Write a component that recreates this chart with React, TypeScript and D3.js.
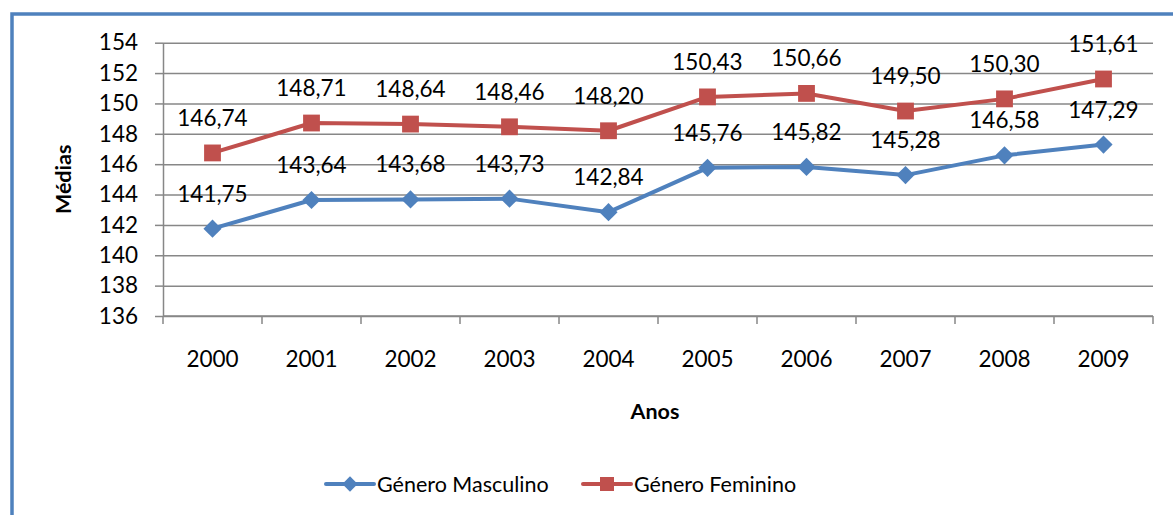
import React, { useRef, useEffect } from 'react'
import * as d3 from 'd3'

const years = ['2000', '2001', '2002', '2003', '2004', '2005', '2006', '2007', '2008', '2009']
const masculino = [141.75, 143.64, 143.68, 143.73, 142.84, 145.76, 145.82, 145.28, 146.58, 147.29]
const feminino = [146.74, 148.71, 148.64, 148.46, 148.2, 150.43, 150.66, 149.5, 150.3, 151.61]
const yTicks = [136, 138, 140, 142, 144, 146, 148, 150, 152, 154]

const blue = '#4F81BD'
const red = '#C0504D'
const grid = '#878787'
const font = 'Lato, "Open Sans", sans-serif'

const App = () => {
  const svgRef = useRef<SVGSVGElement>(null)

  useEffect(() => {
    const svg = d3.select(svgRef.current)
    svg.selectAll('*').remove()

    const width = 1173, height = 515
    const left = 163, right = 1153, top = 42.7, bottom = 316

    // outer frame
    svg.append('rect')
      .attr('x', 12).attr('y', 14)
      .attr('width', width).attr('height', height)
      .attr('fill', 'white')
      .attr('stroke', blue).attr('stroke-width', 3.5)

    const x = d3.scaleBand(years, [left, right])
    const y = d3.scaleLinear([136, 154], [bottom, top])

    // horizontal gridlines + y ticks
    const yAxis = svg.append('g').attr('transform', `translate(${left},0)`)
      .call(d3.axisLeft(y).tickValues(yTicks).tickSize(8).tickSizeOuter(0).tickFormat(d3.format('d')))
    yAxis.select('.domain').attr('stroke', grid).attr('stroke-width', 1.5)
    yAxis.selectAll('.tick line').attr('stroke', grid).attr('stroke-width', 1.5)
    yAxis.selectAll('.tick').append('line')
      .attr('x2', right - left).attr('stroke', grid).attr('stroke-width', 1.5)
    yAxis.selectAll('.tick text')
      .attr('x', -25).attr('font-size', 22.5).attr('font-family', font).attr('fill', '#000')

    // x axis with ticks between categories
    const xAxis = svg.append('g').attr('transform', `translate(0,${bottom})`)
    xAxis.append('line').attr('x1', left).attr('x2', right).attr('stroke', grid).attr('stroke-width', 1.5)
    xAxis.selectAll('line.tk')
      .data(d3.range(years.length + 1))
      .join('line')
      .attr('class', 'tk')
      .attr('x1', i => left + i * x.step()).attr('x2', i => left + i * x.step())
      .attr('y1', 0).attr('y2', 8)
      .attr('stroke', grid).attr('stroke-width', 1.5)
    xAxis.selectAll('text')
      .data(years)
      .join('text')
      .attr('x', d => x(d)! + x.bandwidth() / 2)
      .attr('y', 51)
      .attr('text-anchor', 'middle')
      .attr('font-size', 22.5).attr('font-family', font)
      .text(d => d)

    // axis titles
    svg.append('text')
      .attr('x', (left + right) / 2 - 3).attr('y', 419)
      .attr('text-anchor', 'middle')
      .attr('font-size', 21.5).attr('font-weight', 'bold').attr('font-family', font)
      .text('Anos')
    svg.append('text')
      .attr('transform', `translate(71,${(top + bottom) / 2}) rotate(-90)`)
      .attr('text-anchor', 'middle')
      .attr('font-size', 21.5).attr('font-weight', 'bold').attr('font-family', font)
      .text('Médias')

    const cx = (i: number) => x(years[i])! + x.bandwidth() / 2
    const line = d3.line<number>().x((_, i) => cx(i)).y(d => y(d))

    const series = [
      { name: 'Género Masculino', values: masculino, color: blue, symbol: d3.symbolDiamond2, size: 210, legendSize: 150 },
      { name: 'Género Feminino', values: feminino, color: red, symbol: d3.symbolSquare2, size: 360, legendSize: 250 },
    ]

    const fmt = (v: number) => v.toFixed(2).replace('.', ',')

    series.forEach(s => {
      svg.append('path')
        .attr('d', line(s.values))
        .attr('fill', 'none').attr('stroke', s.color).attr('stroke-width', 4)
        .attr('stroke-linejoin', 'round')
      svg.append('g').selectAll('path')
        .data(s.values)
        .join('path')
        .attr('transform', (d, i) => `translate(${cx(i)},${y(d)})`)
        .attr('d', d3.symbol(s.symbol, s.size)())
        .attr('fill', s.color).attr('stroke', 'none')
    })

    // data labels
    series.forEach(s => {
      svg.append('g').selectAll('text')
        .data(s.values)
        .join('text')
        .attr('x', (d, i) => cx(i))
        .attr('y', d => y(d) - 27)
        .attr('text-anchor', 'middle')
        .attr('font-size', 22.5).attr('font-family', font)
        .text(d => fmt(d))
    })

    // legend
    const legend = [
      { ...series[0], x0: 326 },
      { ...series[1], x0: 583 },
    ]
    const ly = 484
    legend.forEach(l => {
      svg.append('line')
        .attr('x1', l.x0).attr('x2', l.x0 + 48).attr('y1', ly).attr('y2', ly)
        .attr('stroke', l.color).attr('stroke-width', 4).attr('stroke-linecap', 'round')
      svg.append('path')
        .attr('transform', `translate(${l.x0 + 24},${ly})`)
        .attr('d', d3.symbol(l.symbol, l.legendSize)())
        .attr('fill', l.color)
      svg.append('text')
        .attr('x', l.x0 + 51).attr('y', ly + 8)
        .attr('font-size', 21.5).attr('font-family', font)
        .text(l.name)
    })
  }, [])

  return (
    <svg ref={svgRef} width={1173} height={515}
      style={{ position: 'absolute', left: 0, top: 0, display: 'block' }} />
  )
}

export default App
